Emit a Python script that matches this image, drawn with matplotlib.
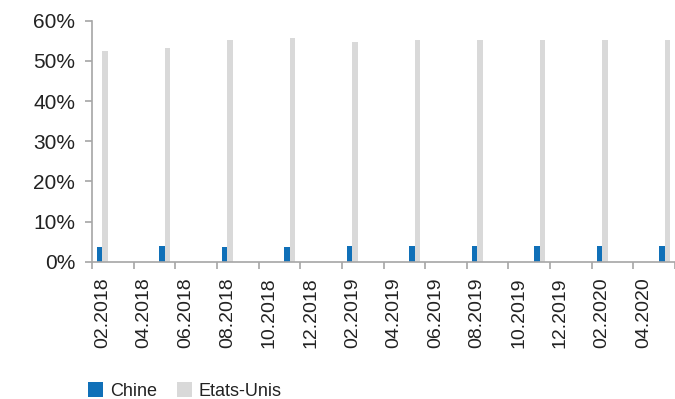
import matplotlib
matplotlib.use("Agg")
import matplotlib.pyplot as plt
from matplotlib.ticker import PercentFormatter

plt.rcParams["font.family"] = ["Liberation Sans", "DejaVu Sans"]

# quarterly observations (share of total, %)
periods = ["02.2018", "05.2018", "08.2018", "11.2018", "02.2019",
           "05.2019", "08.2019", "11.2019", "02.2020", "05.2020"]
chine = [3.7, 4.0, 3.6, 3.6, 3.9, 3.8, 3.8, 3.9, 3.9, 3.9]
etats_unis = [52.4, 53.2, 55.2, 55.7, 54.7, 55.1, 55.1, 55.1, 55.1, 55.1]

tick_labels = ["02.2018", "04.2018", "06.2018", "08.2018", "10.2018", "12.2018",
               "02.2019", "04.2019", "06.2019", "08.2019", "10.2019", "12.2019",
               "02.2020", "04.2020"]

BLUE = "#1070b8"
GREY = "#d9d9d9"
AXIS = "#a6a6a6"
TEXT = "#222222"


def month_index(s):
    m, y = s.split(".")
    return (int(y) - 2018) * 12 + int(m) - 2


x = [month_index(p) + 0.5 for p in periods]
w = 0.27

fig = plt.figure(figsize=(6.75, 3.99), dpi=100)
ax = fig.add_axes([0.1363, 0.344, 0.8637, 0.604])

ax.bar([v - w / 2 for v in x], chine, width=w, color=BLUE, label="Chine")
ax.bar([v + w / 2 for v in x], etats_unis, width=w, color=GREY, label="Etats-Unis")

ax.set_xlim(0, 28)
ax.set_ylim(0, 60)
ax.set_yticks(range(0, 61, 10))
ax.yaxis.set_major_formatter(PercentFormatter(decimals=0))

# tick marks on month boundaries, labels centred on the month
ax.set_xticks(range(0, 2 * len(tick_labels) + 1, 2))
ax.set_xticklabels([])
ax.set_xticks([2 * i + 0.5 for i in range(len(tick_labels))], minor=True)
ax.set_xticklabels(tick_labels, minor=True, rotation=90, va="top", ha="center")

for side in ["top", "right"]:
    ax.spines[side].set_visible(False)
for side in ["left", "bottom"]:
    ax.spines[side].set_color(AXIS)
    ax.spines[side].set_linewidth(1.2)

ax.tick_params(axis="y", length=5, width=1.2, color=AXIS, labelsize=15,
               labelcolor=TEXT, pad=7)
ax.tick_params(axis="x", which="major", length=5, width=1.2, color=AXIS)
ax.tick_params(axis="x", which="minor", length=0, labelsize=14,
               labelcolor=TEXT, pad=11.5)

fig.legend(loc="center left", bbox_to_anchor=(0.117, 0.02), ncol=2,
           frameon=False, fontsize=13, handlelength=0.85, handleheight=0.85,
           handletextpad=0.35, columnspacing=1.1, borderpad=0, labelcolor=TEXT)

fig.savefig("out.png", dpi=100)
